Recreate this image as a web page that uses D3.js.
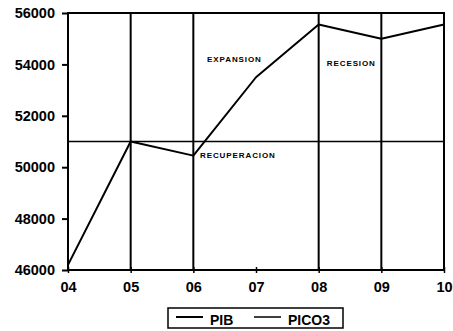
<!DOCTYPE html>
<html><head><meta charset="utf-8">
<script src="https://cdn.jsdelivr.net/npm/d3@7"></script>
<style>body{margin:0;background:#fff}svg{display:block}</style>
</head><body>
<script>
const years = ["04","05","06","07","08","09","10"];
const pib = [46200, 51000, 50450, 53500, 55550, 55000, 55550];
const pico3 = [51000, 51000, 51000, 51000, 51000, 51000, 51000];
const phaseLines = ["05","06","08","09"];
const yTicks = [46000, 48000, 50000, 52000, 54000, 56000];
const phaseLabels = [
  {text:"EXPANSION", x:"06", dx:0.22, y:54100},
  {text:"RECUPERACION", x:"06", dx:0.107, y:50360},
  {text:"RECESION", x:"08", dx:0.13, y:53940}
];
const seriesNames = ["PIB","PICO3"];

const W=453,H=331;
const m={l:68,r:9,t:13,b:61};
const svg=d3.select("body").append("svg").attr("width",W).attr("height",H);
const x=d3.scalePoint().domain(years).range([m.l,W-m.r]);
const y=d3.scaleLinear().domain([46000,56000]).range([H-m.b,m.t]);
const FONT="Liberation Sans, Arial, sans-serif";

const g=svg.append("g");
const line=d3.line().x((d,i)=>x(years[i])).y(d=>y(d));
g.selectAll(".vl").data(phaseLines).enter().append("line")
  .attr("x1",d=>x(d)).attr("x2",d=>x(d)).attr("y1",y(56000)).attr("y2",y(46000))
  .attr("stroke","#000").attr("stroke-width",2);
g.append("path").datum(pico3).attr("d",line).attr("fill","none").attr("stroke","#000").attr("stroke-width",1.5);
g.append("path").datum(pib).attr("d",line).attr("fill","none").attr("stroke","#000").attr("stroke-width",2).attr("stroke-linejoin","round");
g.append("rect").attr("x",m.l).attr("y",m.t).attr("width",W-m.r-m.l).attr("height",H-m.b-m.t)
  .attr("fill","none").attr("stroke","#000").attr("stroke-width",2);

const ya=d3.axisLeft(y).tickValues(yTicks).tickSize(6).tickFormat(d3.format("d"));
const yg=svg.append("g").attr("transform",`translate(${m.l},0)`).call(ya);
yg.select(".domain").remove();
yg.selectAll("line").attr("stroke","#000").attr("stroke-width",2);
yg.selectAll("text").attr("font-family",FONT).attr("font-size",14.5).attr("font-weight","bold").attr("fill","#000").attr("x",-13);

const xa=d3.axisBottom(x).tickSize(3);
const xg=svg.append("g").attr("transform",`translate(0,${H-m.b})`).call(xa);
xg.select(".domain").remove();
xg.selectAll("line").attr("stroke","#000").attr("stroke-width",1.5).attr("y1",-3);
xg.selectAll("text").attr("font-family",FONT).attr("font-size",14.5).attr("font-weight","bold").attr("fill","#000").attr("y",0).attr("dy","1.5em");

svg.selectAll(".pl").data(phaseLabels).enter().append("text")
  .attr("x",d=>x(d.x)+d.dx*(x("07")-x("06")))
  .attr("y",d=>y(d.y))
  .attr("font-family",FONT).attr("font-size",8).attr("font-weight","bold").attr("letter-spacing",0.9)
  .attr("fill","#000").text(d=>d.text);

const lg=svg.append("g");
lg.append("rect").attr("x",168).attr("y",308).attr("width",175).attr("height",20).attr("fill","none").attr("stroke","#000").attr("stroke-width",1.5);
const legX=[176,254];
seriesNames.forEach((n,i)=>{
  lg.append("line").attr("x1",legX[i]).attr("x2",legX[i]+27).attr("y1",317).attr("y2",317).attr("stroke","#000").attr("stroke-width",i?1.5:2);
  lg.append("text").attr("x",legX[i]+34).attr("y",325).attr("font-family",FONT).attr("font-size",14).attr("font-weight","bold").text(n);
});
</script>
</body></html>
